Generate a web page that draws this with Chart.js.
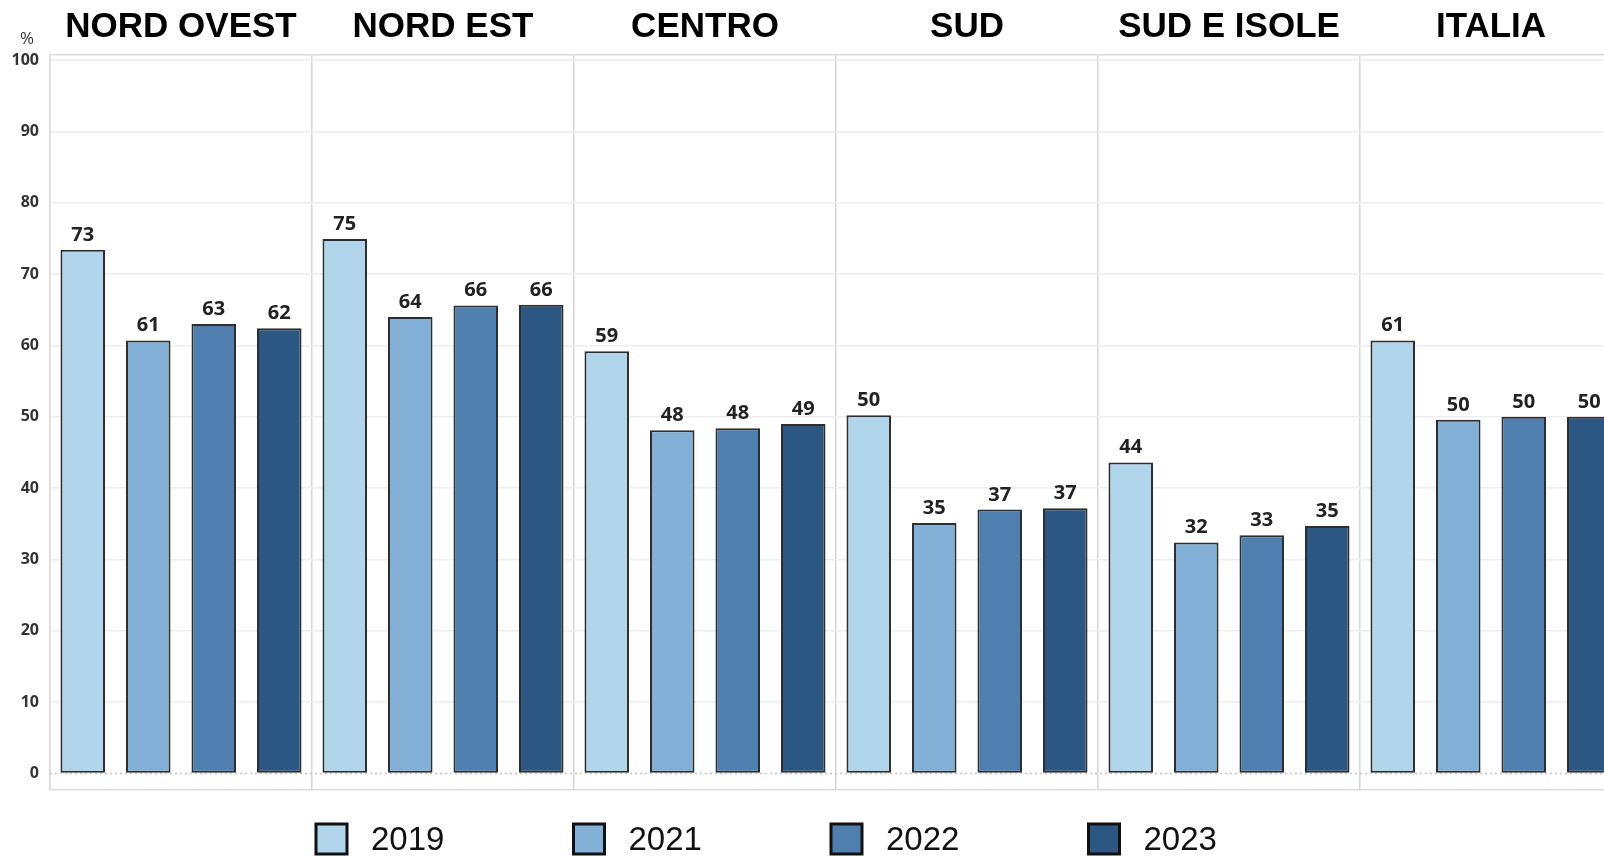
<!DOCTYPE html>
<html>
<head>
<meta charset="utf-8">
<script src="https://cdn.jsdelivr.net/npm/chart.js@4.4.1/dist/chart.umd.min.js"></script>
<style>
  body { margin: 0; background: #fff; overflow: hidden; }
  #wrap { width: 1624px; height: 857px; }
</style>
</head>
<body>
<div id="wrap"><canvas id="myChart" width="1624" height="857"></canvas></div>
<script>
const regioni = ['NORD OVEST', 'NORD EST', 'CENTRO', 'SUD', 'SUD E ISOLE', 'ITALIA'];
const anni = ['2019', '2021', '2022', '2023'];

const val2019 = [73.4, 74.9, 59.2, 50.2, 43.6, 60.7];
const val2021 = [60.7, 64.0, 48.1, 35.1, 32.4, 49.6];
const val2022 = [63.0, 65.6, 48.4, 37.0, 33.4, 50.0];
const val2023 = [62.4, 65.7, 49.0, 37.2, 34.7, 50.0];

const yTicks = [0, 10, 20, 30, 40, 50, 60, 70, 80, 90, 100];

const colori = ['#b1d6ec', '#82b0d7', '#4f7fae', '#2c5783'];
const serie = [val2019, val2021, val2022, val2023];

// dotted zero line, drawn under the bars
const zeroPlugin = {
    id: 'zero',
    beforeDatasetsDraw(chart) {
        const ctx = chart.ctx;
        const y = chart.scales.y.getPixelForValue(0);
        const a = chart.chartArea;
        ctx.save();
        ctx.strokeStyle = '#c4c4c4';
        ctx.lineWidth = 1.5;
        ctx.setLineDash([2, 3]);
        ctx.beginPath();
        ctx.moveTo(a.left, y);
        ctx.lineTo(a.right, y);
        ctx.stroke();
        ctx.restore();
    }
};

// numbers above the bars
const valoriPlugin = {
    id: 'valori',
    afterDatasetsDraw(chart) {
        const ctx = chart.ctx;
        ctx.save();
        ctx.font = 'bold 20px "Open Sans"';
        ctx.fillStyle = '#222';
        ctx.textAlign = 'center';
        ctx.textBaseline = 'alphabetic';
        chart.data.datasets.forEach((ds, i) => {
            chart.getDatasetMeta(i).data.forEach((bar, j) => {
                ctx.fillText(Math.round(ds.data[j]), bar.x, bar.y - 9);
            });
        });
        ctx.restore();
    }
};

// legend at the bottom + the % sign
const legendaPlugin = {
    id: 'legenda',
    afterDraw(chart) {
        const ctx = chart.ctx;
        ctx.save();
        chart.data.datasets.forEach((ds, i) => {
            const x = 316 + i * 257.5;
            ctx.fillStyle = ds.backgroundColor;
            ctx.fillRect(x, 824, 31, 30);
            ctx.lineWidth = 3;
            ctx.strokeStyle = '#111';
            ctx.strokeRect(x, 824, 31, 30);
            ctx.fillStyle = '#111';
            ctx.font = '33px "Liberation Sans"';
            ctx.textAlign = 'left';
            ctx.textBaseline = 'middle';
            ctx.fillText(ds.label, x + 55, 841);
        });
        ctx.font = '17px "Open Sans"';
        ctx.fillStyle = '#333';
        ctx.textAlign = 'center';
        ctx.textBaseline = 'middle';
        ctx.fillText('%', 27, 39);
        ctx.restore();
    }
};

new Chart(document.getElementById('myChart'), {
    type: 'bar',
    data: {
        labels: regioni,
        datasets: anni.map((a, i) => ({
            label: a,
            data: serie[i],
            backgroundColor: colori[i],
            borderColor: '#2e2e2e',
            borderWidth: 2,
            borderSkipped: false,
            barPercentage: 0.68,
            categoryPercentage: 1.0
        }))
    },
    options: {
        responsive: false,
        animation: false,
        layout: { padding: { left: 0, right: 2, top: 0, bottom: 67 } },
        plugins: {
            legend: { display: false },
            tooltip: { enabled: false }
        },
        scales: {
            x: {
                position: 'top',
                grid: { offset: true, color: '#d6d6d6', lineWidth: 1.5, drawTicks: false },
                border: { color: '#dcdcdc', width: 1.5 },
                ticks: {
                    font: { family: 'Liberation Sans', size: 35, weight: 'bold' },
                    color: '#000',
                    padding: 7
                },
                afterFit: s => { s.height = 55; }
            },
            x2: {
                type: 'category',
                position: 'bottom',
                grid: { display: false },
                ticks: { display: false },
                border: { color: '#dcdcdc', width: 1.5 },
                afterFit: s => { s.height = 0; }
            },
            y: {
                min: -2.3,
                max: 100.7,
                afterBuildTicks: s => { s.ticks = yTicks.map(v => ({ value: v })); },
                grid: {
                    color: c => (c.tick && c.tick.value === 0) ? 'rgba(0,0,0,0)' : '#eeeeee',
                    lineWidth: 1.5,
                    drawTicks: false
                },
                border: { color: '#dcdcdc', width: 1.5 },
                ticks: {
                    font: { family: 'Open Sans', size: 16, weight: 'bold' },
                    color: '#333',
                    padding: 11
                },
                afterFit: s => { s.width = 50; }
            }
        }
    },
    plugins: [zeroPlugin, valoriPlugin, legendaPlugin]
});
</script>
</body>
</html>
